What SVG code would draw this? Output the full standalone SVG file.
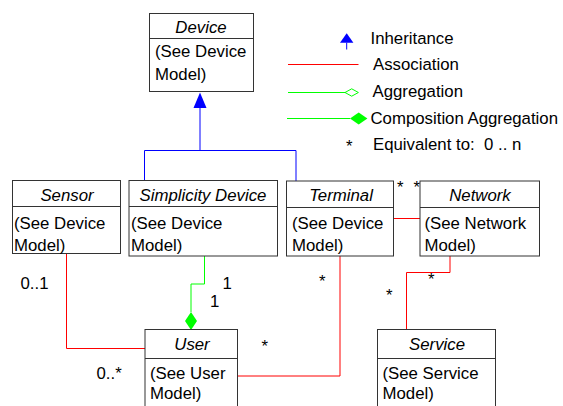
<svg xmlns="http://www.w3.org/2000/svg" width="563" height="406" viewBox="0 0 563 406">
<style>
text{font-family:"Liberation Sans",Arial,sans-serif;font-size:16.8px;fill:#000}
.t{font-style:italic;text-anchor:middle}
.box{fill:#fff;stroke:#333;stroke-width:1}
.red{fill:none;stroke:#ff0000;stroke-width:1}
.grn{fill:none;stroke:#00ff00;stroke-width:1}
.blu{fill:none;stroke:#0000ff;stroke-width:1}
</style>
<rect width="563" height="406" fill="#fff"/>
<g id="connectors">
<polyline class="blu" points="200,108 200,150.5"/>
<polyline class="blu" points="144.5,180.5 144.5,150.5 296,150.5 296,181"/>
<polygon points="200,92.5 193.5,108 206.5,108" fill="#0000ff"/>
<polyline class="red" points="66.5,253 66.5,348.5 145,348.5"/>
<polyline class="grn" points="204.5,256 204.5,284 191,284 191,312"/>
<polygon points="191,312 197,321 191,330 185,321" fill="#00ff00"/>
<polyline class="red" points="237.5,376 340,376 340,256"/>
<polyline class="red" points="393,218.5 420,218.5"/>
<polyline class="red" points="450,256 450,272.5 406.5,272.5 406.5,329.5"/>
<text x="20.5" y="288.5">0..1</text>
<text x="96.5" y="378.5">0..*</text>
<text x="222.5" y="288.5">1</text>
<text x="210" y="306.5">1</text>
<text x="261.5" y="352">*</text>
<text x="319" y="287">*</text>
<text x="397" y="193">*</text>
<text x="413.5" y="193">*</text>
<text x="428" y="285">*</text>
<text x="386" y="301">*</text>
</g>
<g id="legend">
<polygon points="346.7,33.3 340,42.7 353.4,42.7" fill="#0000ff"/>
<line class="blu" x1="346.7" y1="42.7" x2="346.7" y2="49.5"/>
<text x="370.5" y="44">Inheritance</text>
<line class="red" x1="288" y1="64.5" x2="358.5" y2="64.5"/>
<text x="373" y="70">Association</text>
<line class="grn" x1="288" y1="92.5" x2="345" y2="92.5"/>
<polygon class="grn" points="345,92.5 351.7,88.8 358.4,92.5 351.7,96.2"/>
<text x="372.5" y="97">Aggregation</text>
<line class="grn" x1="287" y1="118.5" x2="350" y2="118.5"/>
<polygon points="350,118.5 358.7,112.5 367.4,118.5 358.7,124.5" fill="#00ff00"/>
<text x="370.5" y="124">Composition Aggregation</text>
<text x="346" y="152">*</text>
<text x="373" y="150" xml:space="preserve">Equivalent to:  0 .. n</text>
</g>
<g id="device">
<rect class="box" x="149.5" y="13.5" width="104" height="78"/>
<line class="box" x1="149.5" y1="38.5" x2="253.5" y2="38.5"/>
<text class="t" x="201" y="32.5">Device</text>
<text x="155" y="57">(See Device</text>
<text x="155" y="80">Model)</text>
</g>
<g id="sensor">
<rect class="box" x="12.5" y="180.5" width="108" height="73"/>
<line class="box" x1="12.5" y1="206.5" x2="120.5" y2="206.5"/>
<text class="t" x="67" y="200.5">Sensor</text>
<text x="14" y="229">(See Device</text>
<text x="14" y="251">Model)</text>
</g>
<g id="simplicity">
<rect class="box" x="129" y="180.5" width="148.5" height="75.5"/>
<line class="box" x1="129" y1="206.5" x2="277.5" y2="206.5"/>
<text class="t" x="203" y="200.5">Simplicity Device</text>
<text x="131" y="229">(See Device</text>
<text x="131" y="251">Model)</text>
</g>
<g id="terminal">
<rect class="box" x="286.5" y="181" width="107" height="75"/>
<line class="box" x1="286.5" y1="207.5" x2="393.5" y2="207.5"/>
<text class="t" x="341" y="200.5">Terminal</text>
<text x="292" y="229">(See Device</text>
<text x="292" y="251">Model)</text>
</g>
<g id="network">
<rect class="box" x="420" y="181" width="119.5" height="75"/>
<line class="box" x1="420" y1="207.5" x2="539.5" y2="207.5"/>
<text class="t" x="480" y="200.5">Network</text>
<text x="424.5" y="229">(See Network</text>
<text x="424.5" y="251">Model)</text>
</g>
<g id="user">
<rect class="box" x="145" y="329.5" width="92.5" height="90"/>
<line class="box" x1="145" y1="358.5" x2="237.5" y2="358.5"/>
<text class="t" x="192" y="349.5">User</text>
<text x="150" y="378.5">(See User</text>
<text x="150" y="398.5">Model)</text>
</g>
<g id="service">
<rect class="box" x="377.5" y="329.5" width="118" height="90"/>
<line class="box" x1="377.5" y1="358.5" x2="495.5" y2="358.5"/>
<text class="t" x="437" y="349.5">Service</text>
<text x="382.5" y="378.5">(See Service</text>
<text x="382.5" y="398.5">Model)</text>
</g>
</svg>
